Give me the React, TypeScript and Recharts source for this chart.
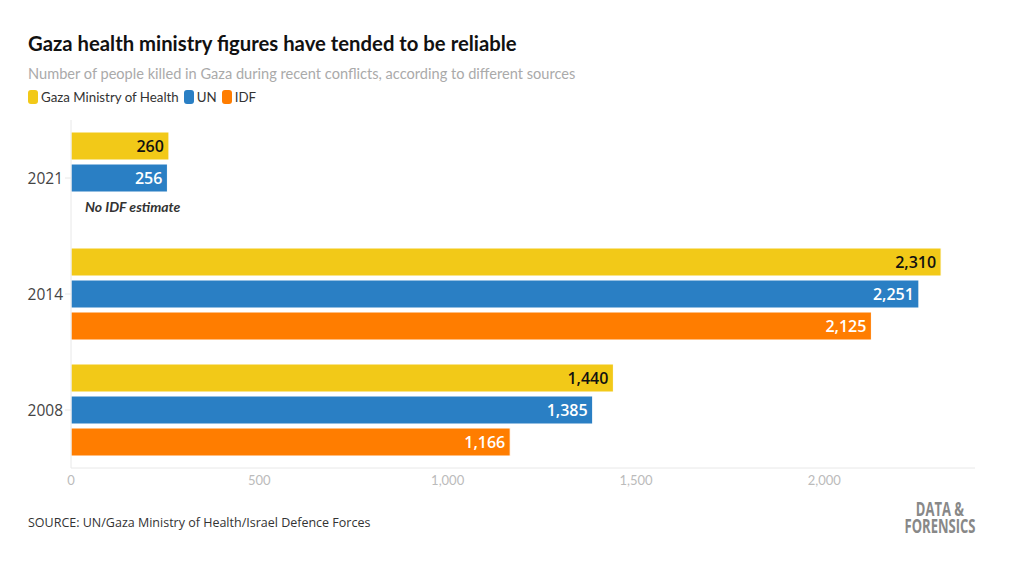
import { BarChart, Bar, XAxis, YAxis, LabelList } from 'recharts';

const years = ['2021', '2014', '2008'];
const ministryOfHealth = [260, 2310, 1440];
const unFigures = [256, 2251, 1385];
const idfFigures: (number | null)[] = [null, 2125, 1166];
const xTicks = [0, 500, 1000, 1500, 2000];

const COLORS = { moh: '#f2c918', un: '#2a7fc4', idf: '#ff7d00' };
const FONT = 'Lato, "Open Sans", sans-serif';
const OPEN = '"Open Sans", Lato, sans-serif';

const data = years.map((year, i) => ({
  year,
  moh: ministryOfHealth[i],
  un: unFigures[i],
  idf: idfFigures[i],
}));

const fmt = (v: number) => v.toLocaleString('en-US');

const LegendItem = ({ color, label }: { color: string; label: string }) => (
  <span style={{ display: 'inline-flex', alignItems: 'center', marginRight: 5 }}>
    <span style={{ width: 10, height: 14, borderRadius: 3, background: color, marginRight: 3, display: 'inline-block' }} />
    {label}
  </span>
);

const logoLine = {
  fontSize: 19,
  lineHeight: '17px',
  height: 17,
  fontWeight: 700,
  fontFamily: OPEN,
  color: '#888',
  whiteSpace: 'nowrap' as const,
};

const App = () => {
  return (
    <div style={{ position: 'absolute', top: 0, left: 0, width: 1020, height: 576, background: '#fff', fontFamily: FONT, overflow: 'hidden' }}>
      <div style={{ position: 'absolute', left: 28, top: 31, fontSize: 20.3, fontWeight: 700, color: '#111' }}>
        Gaza health ministry figures have tended to be reliable
      </div>
      <div style={{ position: 'absolute', left: 28, top: 65, fontSize: 14.6, color: '#aaa' }}>
        Number of people killed in Gaza during recent conflicts, according to different sources
      </div>
      <div style={{ position: 'absolute', left: 28, top: 89, fontSize: 13.3, color: '#333' }}>
        <LegendItem color={COLORS.moh} label="Gaza Ministry of Health" />
        <LegendItem color={COLORS.un} label="UN" />
        <LegendItem color={COLORS.idf} label="IDF" />
      </div>

      <div style={{ position: 'absolute', left: 0, top: 0 }}>
        <BarChart
          width={1020}
          height={576}
          data={data}
          layout="vertical"
          margin={{ top: 120, right: 45, bottom: 78, left: 0 }}
          barCategoryGap={12}
          barGap={4}
        >
          <XAxis
            type="number"
            domain={[0, 2400]}
            ticks={xTicks}
            tickFormatter={fmt}
            axisLine={{ stroke: '#e8e8e8' }}
            tickLine={false}
            tick={{ fill: '#bbb', fontSize: 13, fontFamily: FONT }}
            height={30}
          />
          <YAxis
            type="category"
            dataKey="year"
            width={71}
            axisLine={{ stroke: '#e8e8e8' }}
            tickLine={{ stroke: '#e8e8e8' }}
            tickSize={6}
            tick={{ fill: '#444', fontSize: 15.5, fontFamily: OPEN }}
          />
          <Bar dataKey="moh" fill={COLORS.moh} stroke="#fff" strokeWidth={1} isAnimationActive={false}>
            <LabelList dataKey="moh" position="insideRight" formatter={(v: any) => fmt(v)} fill="#111" fontSize={16} fontWeight={600} fontFamily={OPEN} />
          </Bar>
          <Bar dataKey="un" fill={COLORS.un} stroke="#fff" strokeWidth={1} isAnimationActive={false}>
            <LabelList dataKey="un" position="insideRight" formatter={(v: any) => fmt(v)} fill="#fff" fontSize={16} fontWeight={600} fontFamily={OPEN} />
          </Bar>
          <Bar dataKey="idf" fill={COLORS.idf} stroke="#fff" strokeWidth={1} isAnimationActive={false}>
            <LabelList dataKey="idf" position="insideRight" formatter={(v: any) => (v == null ? '' : fmt(v))} fill="#fff" fontSize={16} fontWeight={600} fontFamily={OPEN} />
          </Bar>
        </BarChart>
      </div>

      <div style={{ position: 'absolute', left: 85, top: 198, fontSize: 14, fontStyle: 'italic', fontWeight: 700, color: '#333' }}>
        No IDF estimate
      </div>

      <div style={{ position: 'absolute', left: 28, top: 514, fontSize: 12.5, fontFamily: OPEN, color: '#333' }}>
        SOURCE: UN/Gaza Ministry of Health/Israel Defence Forces
      </div>
      <div
        style={{
          position: 'absolute',
          left: 879.5,
          top: 501,
          width: 120,
          textAlign: 'center',
          transform: 'scaleX(0.685)',
          transformOrigin: 'center top',
        }}
      >
        <div style={logoLine}>DATA &amp;</div>
        <div style={logoLine}>FORENSICS</div>
      </div>
    </div>
  );
};

export default App;
